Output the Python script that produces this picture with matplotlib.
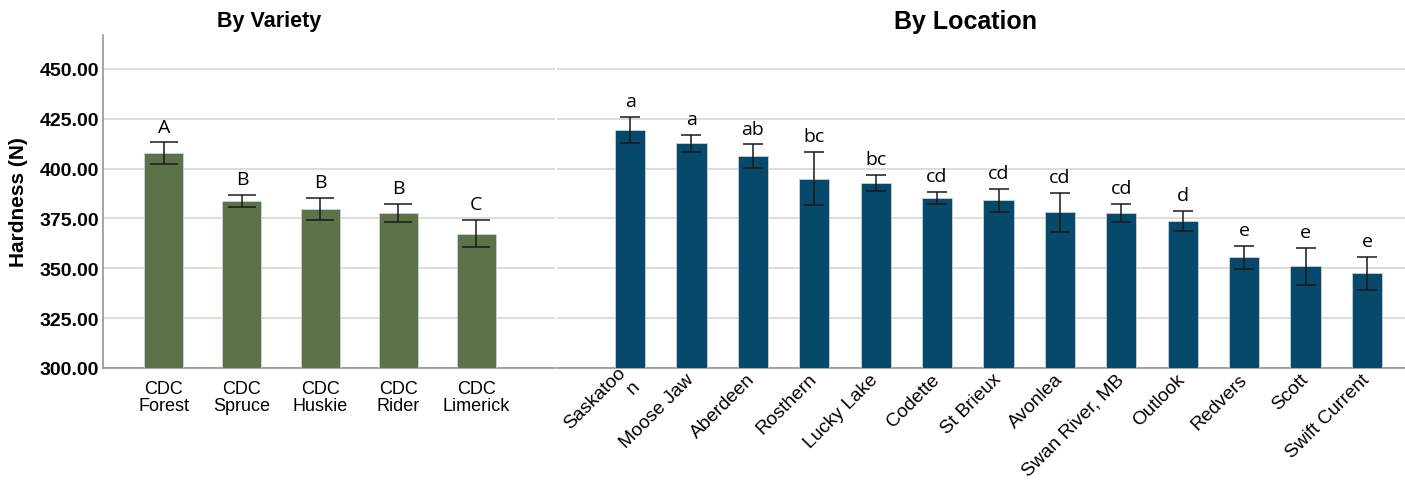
import matplotlib
matplotlib.use("Agg")
import matplotlib.pyplot as plt
import numpy as np

plt.rcParams['font.family'] = ['Liberation Sans', 'DejaVu Sans']

# by variety
varieties = ["CDC\nForest", "CDC\nSpruce", "CDC\nHuskie", "CDC\nRider", "CDC\nLimerick"]
variety_mean = [407.7, 383.8, 379.8, 377.8, 367.4]
variety_err = [5.4, 3.2, 5.7, 4.5, 6.7]
variety_group = ["A", "B", "B", "B", "C"]

# by location
locations = ["Saskatoo\nn", "Moose Jaw", "Aberdeen", "Rosthern", "Lucky Lake", "Codette",
             "St Brieux", "Avonlea", "Swan River, MB", "Outlook", "Redvers", "Scott",
             "Swift Current"]
location_mean = [419.4, 412.7, 406.1, 395.0, 392.8, 385.1, 384.1, 378.1, 377.9, 373.7,
                 355.5, 351.0, 347.5]
location_err = [6.6, 4.3, 6.0, 13.5, 3.9, 3.0, 5.8, 9.9, 4.5, 5.0, 5.8, 9.2, 8.4]
location_group = ["a", "a", "ab", "bc", "bc", "cd", "cd", "cd", "cd", "d", "e", "e", "e"]

yticks = [300, 325, 350, 375, 400, 425, 450]

W, H = 1405, 481
fig = plt.figure(figsize=(W / 100, H / 100), dpi=100)
bot, top = 1 - 369 / H, (369 - 36) / H
ax1 = fig.add_axes([103 / W, bot, (555 - 103) / W, top])
ax2 = fig.add_axes([557 / W, bot, (W - 557) / W, top], sharey=ax1)

green = "#5c7249"
blue = "#07496b"
grid_c = "#d2d2d2"
spine_c = "#8c8c8c"


def draw(ax, labels, means, errs, groups, color, width, cap):
    x = np.arange(len(labels))
    ax.bar(x, np.array(means) - 300, width, bottom=300, color=color,
           edgecolor="#c9d3dc", linewidth=0.6, zorder=3)
    ax.errorbar(x, means, yerr=errs, fmt="none", ecolor="#1a1a1a", elinewidth=1.1,
                capsize=cap, capthick=1.1, zorder=4)
    for xi, m, e, g in zip(x, means, errs, groups):
        ax.annotate(g, (xi, m + e), xytext=(0, 5), textcoords="offset points",
                    ha="center", va="bottom", fontsize=14, family="Open Sans")
    ax.set_ylim(300, 467)
    ax.set_yticks(yticks)
    ax.yaxis.grid(True, color=grid_c, linewidth=1.1, zorder=0)
    ax.set_axisbelow(True)
    for s in ["top", "right"]:
        ax.spines[s].set_visible(False)
    ax.spines["bottom"].set_color(spine_c)
    ax.spines["bottom"].set_linewidth(1.1)
    ax.tick_params(axis="both", length=0)
    ax.set_xticks(x)
    return x


draw(ax1, varieties, variety_mean, variety_err, variety_group, green, 0.5, 10)
ax1.set_xlim(-0.78, 5.01)
ax1.set_xticklabels(varieties, fontsize=13, linespacing=1.0)
ax1.tick_params(axis="x", pad=9)
ax1.spines["left"].set_color(spine_c)
ax1.spines["left"].set_linewidth(1.1)
ax1.set_yticklabels(["%.2f" % v for v in yticks], fontsize=14, fontweight="bold")
ax1.tick_params(axis="y", pad=3)
ax1.set_ylabel("Hardness (N)", fontsize=15, fontweight="bold", labelpad=8)

draw(ax2, locations, location_mean, location_err, location_group, blue, 0.49, 7.5)
ax2.set_xlim(-1.19, 12.62)
ax2.spines["left"].set_visible(False)
ax2.tick_params(axis="y", labelleft=False)
ax2.set_xticklabels(locations, fontsize=13.8, rotation=45, ha="right", va="center",
                    rotation_mode="anchor", multialignment="right")
ax2.tick_params(axis="x", pad=6)

fig.text(269 / W, 1 - 22 / H, "By Variety", ha="center", va="center",
         fontsize=15.5, fontweight="bold")
fig.text(965 / W, 1 - 22 / H, "By Location", ha="center", va="center",
         fontsize=18, fontweight="bold")

fig.savefig("out.png", dpi=100)
